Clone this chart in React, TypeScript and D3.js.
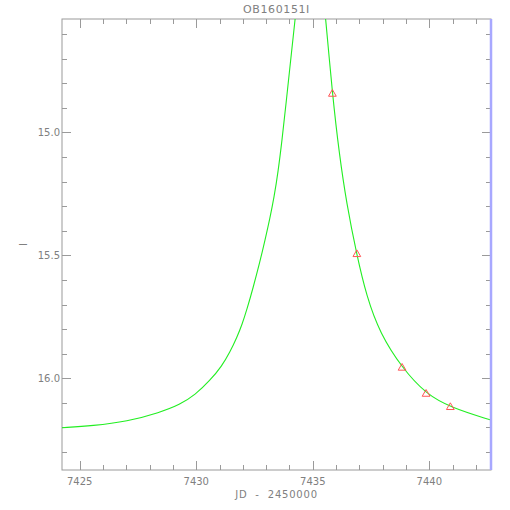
import React from 'react';
import * as d3 from 'd3';

// observed photometry (JD - 2450000, I mag)
const obsJD = [7435.84, 7436.89, 7438.83, 7439.86, 7440.9];
const obsMag = [14.844, 15.496, 15.958, 16.064, 16.118];

// model light curve (points above the frame get clipped)
const modelJD = [
  7424.24, 7425.57, 7427.03, 7428.44, 7429.3, 7429.95, 7430.59, 7431.1, 7431.45, 7431.75,
  7431.96, 7432.18, 7432.43, 7432.73, 7432.95, 7433.16, 7433.34, 7433.51, 7433.68, 7433.85,
  7434.04, 7434.24, 7434.45, 7434.9, 7435.3, 7435.56, 7435.84, 7436.14, 7436.45, 7436.88,
  7437.31, 7437.88, 7438.83, 7439.86, 7440.9, 7442.64,
];
const modelMag = [
  16.201, 16.193, 16.176, 16.139, 16.107, 16.068, 16.009, 15.95, 15.893, 15.832,
  15.783, 15.718, 15.635, 15.527, 15.438, 15.349, 15.263, 15.161, 15.031, 14.885,
  14.714, 14.544, 14.34, 13.9, 14.3, 14.543, 14.844, 15.092, 15.289, 15.496,
  15.668, 15.817, 15.958, 16.064, 16.118, 16.17,
];

const xMajor = [7425, 7430, 7435, 7440];
const yMajor = [15.0, 15.5, 16.0];

const W = 510;
const H = 510;
const m = { left: 62, right: 19, top: 19, bottom: 40 };
const axisColor = '#9a9a9a';
const textColor = '#808080';
const font = 'DejaVu Sans';

export default function App() {
  const x = d3.scaleLinear().domain([7424.24, 7442.645]).range([m.left, W - m.right]);
  const y = d3.scaleLinear().domain([14.539, 16.373]).range([m.top, H - m.bottom]);

  const x0 = m.left;
  const x1 = W - m.right;
  const y0 = m.top;
  const y1 = H - m.bottom;

  const xMinor = d3.range(7425, 7443, 1).filter((v) => x(v) >= x0 && x(v) <= x1);
  const yMinor = d3.range(146, 164, 1).map((v) => v / 10).filter((v) => y(v) >= y0 && y(v) <= y1);

  const model = modelJD.map((t, i) => [t, modelMag[i]] as [number, number]);
  const lineGen = d3
    .line<[number, number]>()
    .x((d) => x(d[0]))
    .y((d) => y(d[1]))
    .curve(d3.curveBasis);

  const tri = d3.symbol().type(d3.symbolTriangle).size(26);

  const isMajorX = (v: number) => xMajor.includes(v);
  const isMajorY = (v: number) => yMajor.some((t) => Math.abs(t - v) < 1e-6);

  return (
    <svg width={W} height={H} style={{ position: 'absolute', left: 0, top: 0, background: '#fff' }}>
      <defs>
        <clipPath id="plotclip">
          <rect x={x0} y={y0} width={x1 - x0} height={y1 - y0} />
        </clipPath>
      </defs>

      {/* frame */}
      <rect x={x0} y={y0} width={x1 - x0} height={y1 - y0} fill="none" stroke={axisColor} strokeWidth={1} />

      {/* x ticks, bottom and top */}
      {xMinor.map((v) => {
        const len = isMajorX(v) ? 9 : 5;
        const px = Math.round(x(v)) + 0.5;
        return (
          <g key={'xt' + v}>
            <line x1={px} x2={px} y1={y1} y2={y1 - len} stroke={axisColor} />
            <line x1={px} x2={px} y1={y0} y2={y0 + len} stroke={axisColor} />
          </g>
        );
      })}
      {/* y ticks, left and right */}
      {yMinor.map((v) => {
        const len = isMajorY(v) ? 9 : 5;
        const py = Math.round(y(v)) + 0.5;
        return (
          <g key={'yt' + v}>
            <line x1={x0} x2={x0 + len} y1={py} y2={py} stroke={axisColor} />
            <line x1={x1} x2={x1 - len} y1={py} y2={py} stroke={axisColor} />
          </g>
        );
      })}

      {/* tick labels */}
      {xMajor.map((v) => (
        <text key={'xl' + v} x={x(v)} y={y1 + 15} fontFamily={font} fontSize={10} fill={textColor} textAnchor="middle">
          {v}
        </text>
      ))}
      {yMajor.map((v) => (
        <text key={'yl' + v} x={x0 - 2} y={y(v) + 4} fontFamily={font} fontSize={10} fill={textColor} textAnchor="end">
          {v.toFixed(1)}
        </text>
      ))}

      {/* axis titles */}
      <text x={(x0 + x1) / 2} y={y1 + 28} fontFamily={font} fontSize={10} fill={textColor} textAnchor="middle" letterSpacing={0.8} style={{ whiteSpace: 'pre' }}>
        {'JD  -  2450000'}
      </text>
      <text transform={`translate(27,${(y0 + y1) / 2}) rotate(-90)`} fontFamily={font} fontSize={10} fill={textColor} textAnchor="middle">
        I
      </text>
      <text x={(x0 + x1) / 2} y={13} fontFamily={font} fontSize={11} fill={textColor} textAnchor="middle" letterSpacing={0.6}>
        OB160151I
      </text>

      {/* model curve */}
      <g clipPath="url(#plotclip)">
        <path d={lineGen(model) ?? ''} fill="none" stroke="#22ee22" strokeWidth={1.1} />
      </g>

      {/* data points */}
      {obsJD.map((t, i) => (
        <path
          key={'p' + i}
          d={tri() ?? ''}
          transform={`translate(${x(t)},${y(obsMag[i])})`}
          fill="none"
          stroke="#ff5555"
          strokeWidth={1}
        />
      ))}

      {/* right-hand limit line */}
      <line x1={x1} x2={x1} y1={y0} y2={y1} stroke="#a8a8ff" strokeWidth={2.5} />
    </svg>
  );
}
